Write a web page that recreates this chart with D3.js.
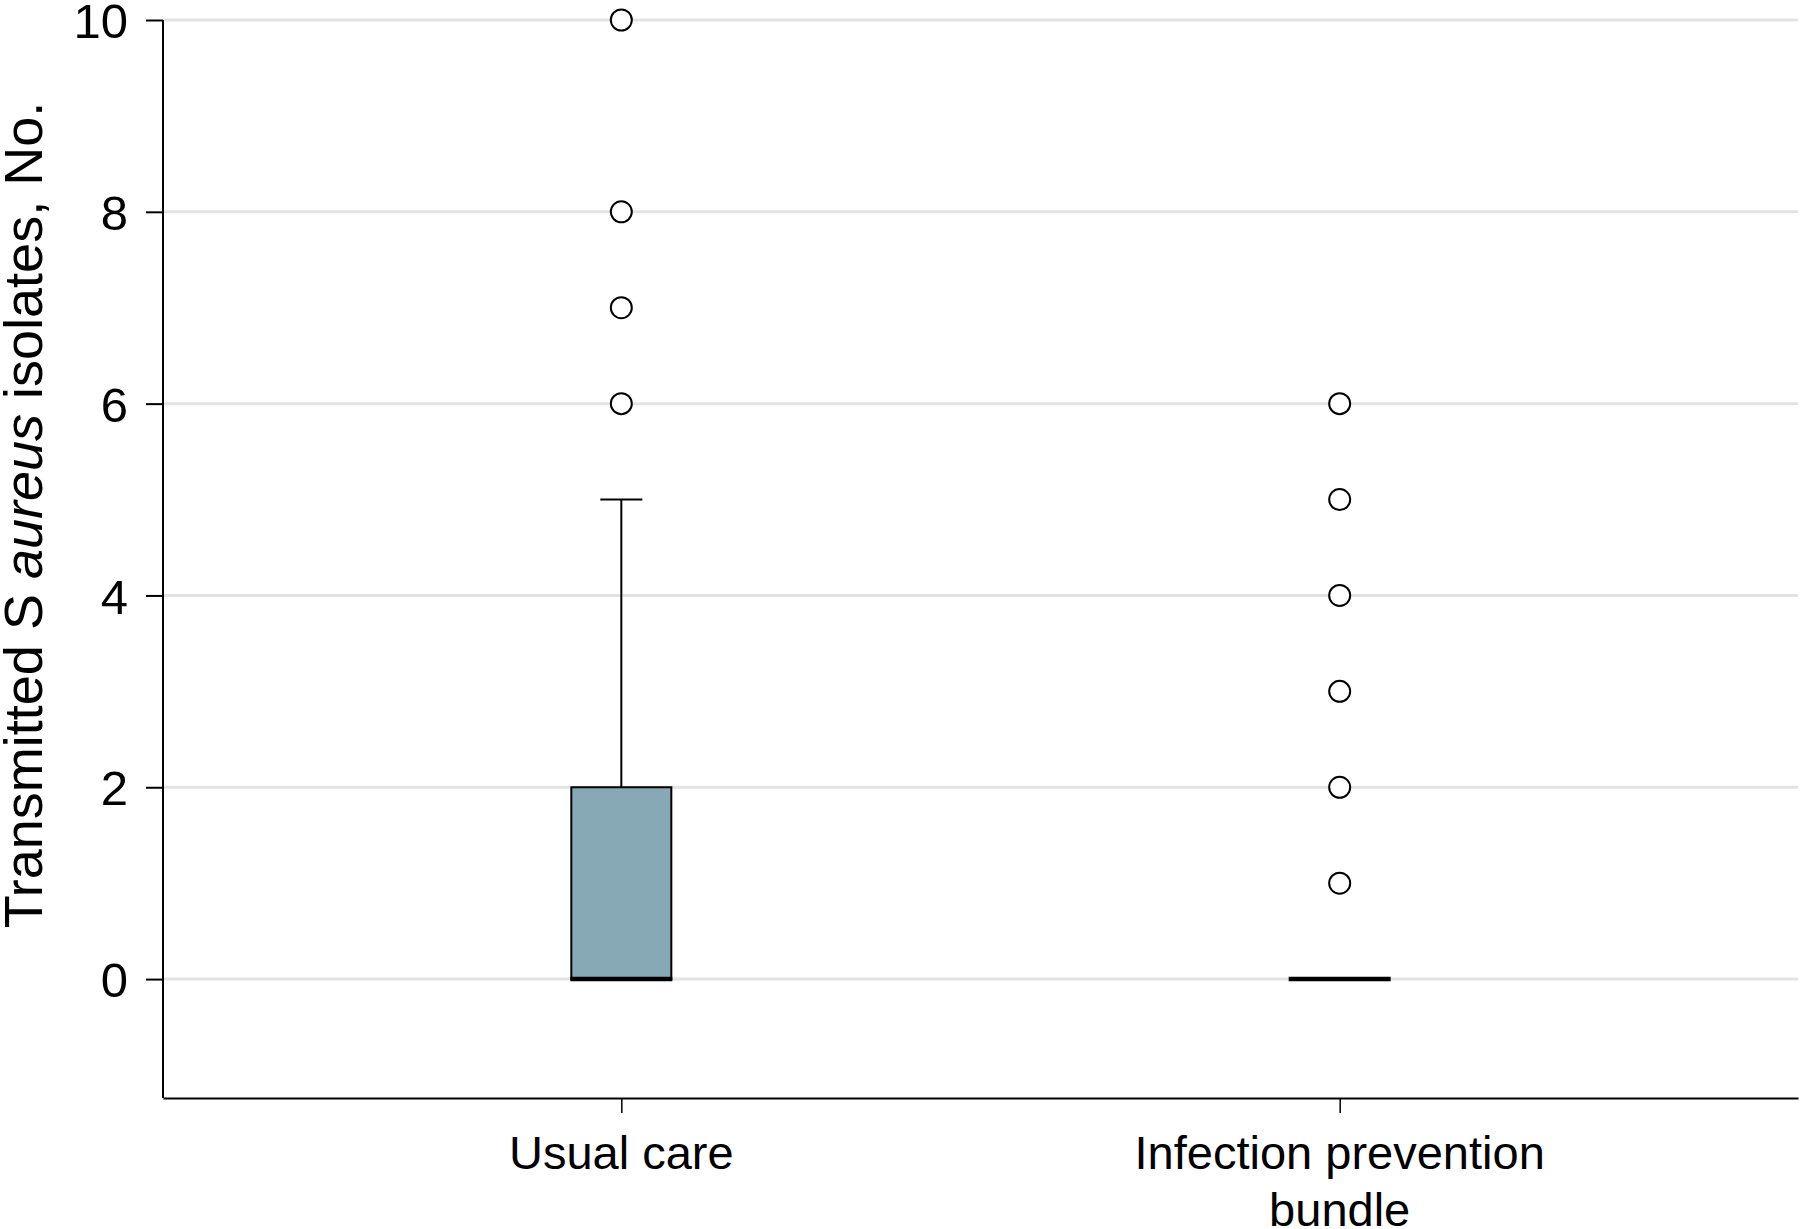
<!DOCTYPE html>
<html>
<head>
<meta charset="utf-8">
<script src="https://cdn.jsdelivr.net/npm/d3@7"></script>
<style>
  body { margin: 0; background: #fff; }
  svg text { font-family: "Liberation Sans", Arial, sans-serif; fill: #000; }
</style>
</head>
<body>
<div id="chart"></div>
<script>
// groups and their box summaries
const categories = ["Usual care", "Infection prevention bundle"];
const labelLines = [["Usual care"], ["Infection prevention", "bundle"]];
const q1 = [0, 0];
const median = [0, 0];
const q3 = [2, 0];
const whiskerLow = [0, 0];
const whiskerHigh = [5, 0];
const outliers = [[6, 7, 8, 10], [1, 2, 3, 4, 5, 6]];
const yTicks = [0, 2, 4, 6, 8, 10];

const width = 1800, height = 1229;
const margin = {top: 20, right: 2, bottom: 131, left: 163};

const svg = d3.select("#chart").append("svg")
    .attr("width", width)
    .attr("height", height);

const x = d3.scalePoint()
    .domain(categories)
    .range([margin.left, width - margin.right])
    .padding(0.638);

const y = d3.scaleLinear()
    .domain([-1.24, 10])
    .range([height - margin.bottom, margin.top]);

// grid lines
svg.append("g")
    .selectAll("line")
    .data(yTicks)
    .join("line")
    .attr("x1", margin.left)
    .attr("x2", width - margin.right)
    .attr("y1", d => y(d))
    .attr("y2", d => y(d))
    .attr("stroke", "#e3e3e3")
    .attr("stroke-width", 3);

// y axis
const yAxis = svg.append("g")
    .attr("transform", "translate(" + margin.left + ",0)")
    .call(d3.axisLeft(y).tickValues(yTicks).tickSize(17).tickPadding(18).tickSizeOuter(0));
yAxis.select(".domain").attr("stroke", "#000").attr("stroke-width", 2)
    .attr("d", "M0," + y(10) + "V" + y.range()[0]);
yAxis.selectAll(".tick line").attr("stroke", "#000").attr("stroke-width", 2);
yAxis.selectAll(".tick text")
    .style("font-family", "'Liberation Sans Narrow', 'Liberation Sans', sans-serif")
    .attr("font-size", 49)
    .attr("dy", "0.36em");

// x axis
const xAxis = svg.append("g")
    .attr("transform", "translate(0," + y.range()[0] + ")")
    .call(d3.axisBottom(x).tickSize(15).tickSizeOuter(0).tickFormat(""));
xAxis.select(".domain").attr("stroke", "#000").attr("stroke-width", 2);
xAxis.selectAll(".tick line").attr("stroke", "#000").attr("stroke-width", 1.5);

// category labels
svg.append("g")
    .selectAll("text")
    .data(categories)
    .join("text")
    .attr("x", d => x(d))
    .attr("y", 1169)
    .attr("text-anchor", "middle")
    .attr("font-size", 47)
    .selectAll("tspan")
    .data((d, i) => labelLines[i])
    .join("tspan")
    .attr("x", function() { return x(d3.select(this.parentNode).datum()); })
    .attr("dy", (d, i) => i === 0 ? 0 : 57)
    .text(d => d);

// y title
const title = svg.append("text")
    .attr("transform", "translate(42,515) rotate(-90)")
    .attr("text-anchor", "middle")
    .attr("font-size", 54);
title.append("tspan").text("Transmitted S ");
title.append("tspan").attr("font-style", "italic").text("aureus");
title.append("tspan").text(" isolates, No.");

const boxW = 100, capW = 42;
const groups = svg.append("g")
    .selectAll("g")
    .data(categories)
    .join("g");

// whiskers
groups.filter((d, i) => whiskerHigh[i] > q3[i])
    .each(function(d) {
        const i = categories.indexOf(d);
        const g = d3.select(this);
        g.append("line")
            .attr("x1", x(d)).attr("x2", x(d))
            .attr("y1", y(q3[i])).attr("y2", y(whiskerHigh[i]))
            .attr("stroke", "#000").attr("stroke-width", 2);
        g.append("line")
            .attr("x1", x(d) - capW / 2).attr("x2", x(d) + capW / 2)
            .attr("y1", y(whiskerHigh[i])).attr("y2", y(whiskerHigh[i]))
            .attr("stroke", "#000").attr("stroke-width", 2);
    });

// boxes
groups.filter((d, i) => q3[i] > q1[i])
    .append("rect")
    .attr("x", d => x(d) - boxW / 2)
    .attr("width", boxW)
    .attr("y", d => y(q3[categories.indexOf(d)]))
    .attr("height", d => { const i = categories.indexOf(d); return y(q1[i]) - y(q3[i]); })
    .attr("fill", "#87a9b5")
    .attr("stroke", "#000")
    .attr("stroke-width", 2);

// medians
groups.append("line")
    .attr("x1", d => x(d) - boxW / 2 - 1)
    .attr("x2", d => x(d) + boxW / 2 + 1)
    .attr("y1", d => y(median[categories.indexOf(d)]))
    .attr("y2", d => y(median[categories.indexOf(d)]))
    .attr("stroke", "#000")
    .attr("stroke-width", 4.5);

// outliers
groups.selectAll("circle")
    .data(d => outliers[categories.indexOf(d)].map(v => ({cat: d, v: v})))
    .join("circle")
    .attr("cx", d => x(d.cat))
    .attr("cy", d => y(d.v))
    .attr("r", 10.5)
    .attr("fill", "#fff")
    .attr("stroke", "#000")
    .attr("stroke-width", 2);
</script>
</body>
</html>
